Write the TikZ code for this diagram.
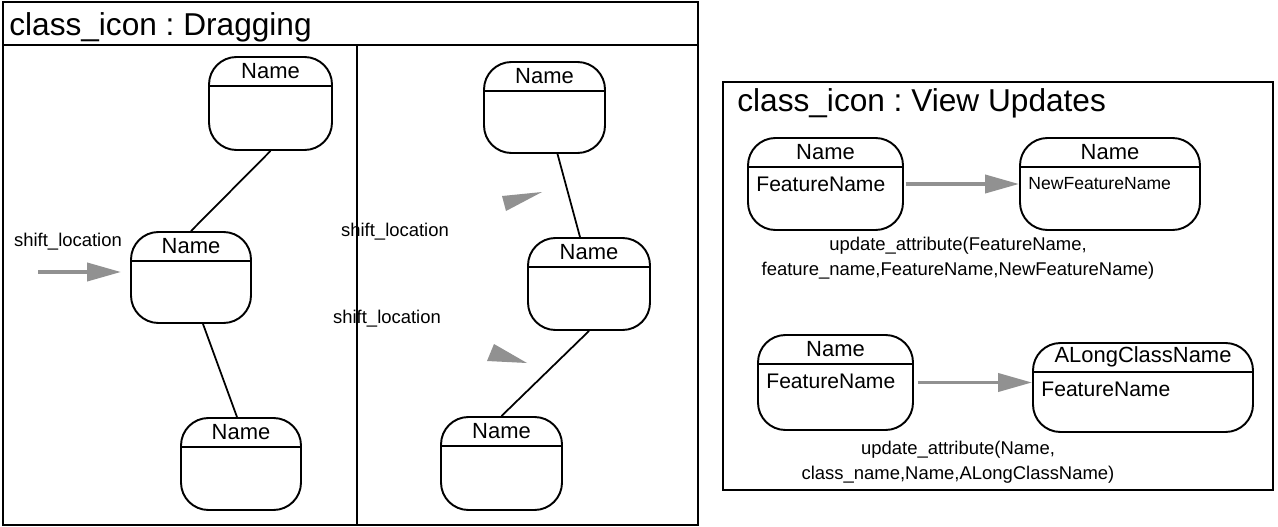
\documentclass[tikz,border=0pt]{standalone}
\usepackage{fontspec}
\setmainfont{Liberation Sans}
\frenchspacing
\usetikzlibrary{arrows.meta, positioning, calc}
\definecolor{hatch}{RGB}{145,145,145}

\tikzset{
  icon/.style={draw, line width=1.1pt, rounded corners=0.55cm, inner sep=0pt},
  divider/.style={line width=1.1pt},
  iconname/.style={font=\fontsize{12.5}{14}\selectfont, inner sep=0pt},
  featname/.style={font=\fontsize{12}{14}\selectfont, anchor=west, inner sep=0pt},
  msg/.style={font=\fontsize{10.5}{13}\selectfont, inner sep=0pt},
  msgblock/.style={font=\fontsize{10.5}{14.2}\selectfont, align=center, inner sep=0pt},
  title/.style={font=\fontsize{18}{20}\selectfont, anchor=west, inner sep=0pt},
  link/.style={line width=1pt},
  frame/.style={line width=1.2pt},
  shiftarrow/.style={draw=hatch, line width=2.2pt, -{Triangle[length=0.68cm,width=0.36cm]}},
}

% class icon: node name, centre, width, height (px), class name, feature
\newcommand{\classicon}[6]{%
  \node[icon, minimum width=#3*0.02cm, minimum height=#4*0.02cm] (#1) at #2 {};
  \draw[divider] ($(#1.north west)+(0,30)$) -- ($(#1.north east)+(0,30)$);
  \node[iconname] (#1-name) at ($(#1.north)+(0,15)$) {#5};
  \node[featname] (#1-feat) at ($(#1.north west)+(9,47)$) {#6};
}

\begin{document}
\begin{tikzpicture}[x=0.02cm, y=-0.02cm]
  \useasboundingbox (0,0) rectangle (1278,527);

  % dragging
  \draw[frame] (3,2) rectangle (698,525);
  \draw[frame] (3,45) -- (698,45);
  \draw[frame] (357,45) -- (357,525);
  \node[title] (dragtitle) at (9,27) {class\_icon : Dragging};

  \classicon{A}{(270.5,103.5)}{123}{93}{Name}{}
  \classicon{B}{(191,277.5)}{120}{91}{Name}{}
  \classicon{C}{(241,464)}{120}{92}{Name}{}
  \draw[link] (A.south) -- (B.north);
  \draw[link] ($(B.south)+(12,0)$) -- ($(C.north)+(-4,0)$);

  \node[msg] (shiftA) at (68,242) {shift\_location};
  \coordinate (startA) at (38,272);
  \draw[shiftarrow, shorten >=0.18cm] (startA) -- (B.west |- startA);

  \classicon{D}{(544.5,107.5)}{121}{91}{Name}{}
  \classicon{E}{(589,284)}{122}{92}{Name}{}
  \classicon{F}{(501.5,463.5)}{121}{93}{Name}{}
  \draw[link] ($(D.south)+(13,0)$) -- ($(E.north)+(-9,0)$);
  \draw[link] (E.south) -- (F.north);

  \node[msg] (shiftD) at (395,232) {shift\_location};
  \node[msg] (shiftF) at (387,319) {shift\_location};
  \fill[hatch] (502,196) -- (542,192) -- (506,211) -- cycle;
  \fill[hatch] (487,361) -- (494,344) -- (527,363) -- cycle;

  % view updates
  \draw[frame] (723,82) rectangle (1273,490);
  \node[title] (viewtitle) at (737,103) {class\_icon : View Updates};

  \classicon{G}{(825.5,184)}{155}{92}{Name}{FeatureName}
  \classicon{H}{(1110,184)}{180}{92}{Name}{\fontsize{10}{12}\selectfont NewFeatureName}
  \draw[shiftarrow, shorten <=0.04cm] (G.east) -- (H.west);
  \node[msgblock] (updA) at (958,258.5) {update\_attribute(FeatureName,\\feature\_name,FeatureName,NewFeatureName)};

  \classicon{I}{(835.5,382.5)}{155}{95}{Name}{FeatureName}
  \classicon{J}{(1143,387.5)}{220}{89}{ALongClassName}{FeatureName}
  \draw[shiftarrow, shorten <=0.08cm] (I.east) -- (J.west |- I.east);
  \node[msgblock] (updB) at (958,462) {update\_attribute(Name,\\class\_name,Name,ALongClassName)};
\end{tikzpicture}
\end{document}
